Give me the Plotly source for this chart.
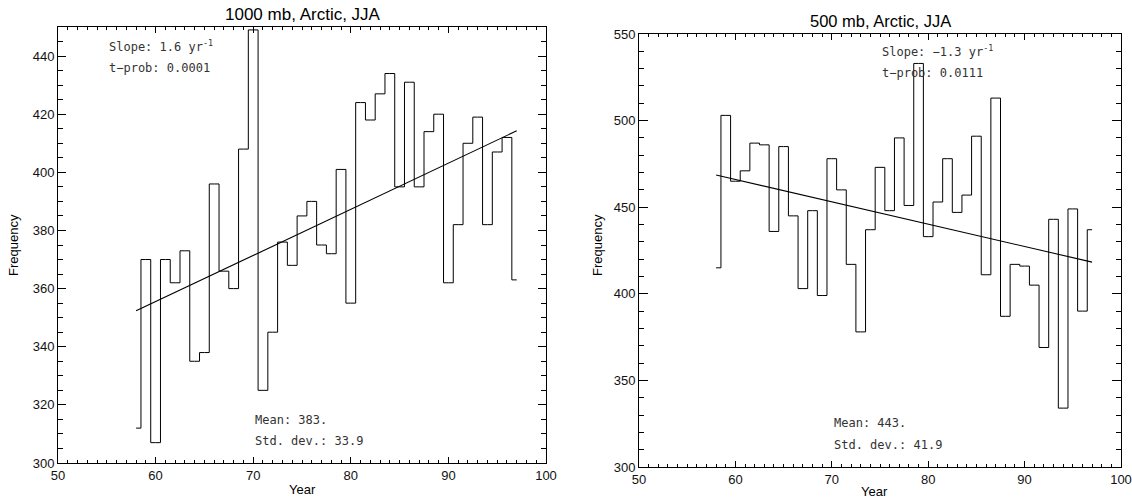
import numpy as np
import plotly.graph_objects as go

years = list(range(58, 98))
freq_1000 = [312, 370, 307, 370, 362, 373, 335, 338, 396, 366,
             360, 408, 449, 325, 345, 376, 368, 385, 390, 375,
             372, 401, 355, 424, 418, 427, 434, 395, 431, 395,
             414, 420, 362, 382, 410, 419, 382, 407, 412, 363]
freq_500 = [415, 503, 465, 471, 487, 486, 436, 485, 445, 403,
            448, 399, 478, 460, 417, 378, 437, 473, 448, 490,
            451, 533, 433, 453, 478, 447, 457, 491, 411, 513,
            387, 417, 416, 405, 369, 443, 334, 449, 390, 437]
titles = ["1000 mb, Arctic, JJA", "500 mb, Arctic, JJA"]
slope_txt = ["Slope: 1.6 yr<sup>-1</sup>", "Slope: \u22121.3 yr<sup>-1</sup>"]
tprob_txt = ["t\u2212prob: 0.0001", "t\u2212prob: 0.0111"]
mean_txt = ["Mean: 383.", "Mean: 443."]
std_txt = ["Std. dev.: 33.9", "Std. dev.: 41.9"]

W, H = 1132, 499
fig = go.Figure()

for i, (vals, ax) in enumerate([(freq_1000, ""), (freq_500, "2")]):
    fig.add_trace(go.Scatter(x=years, y=vals, mode="lines", line=dict(shape="hvh", color="black", width=1),
                             xaxis="x" + ax, yaxis="y" + ax, showlegend=False, hoverinfo="x+y"))
    c = np.polyfit(years, vals, 1)
    xs = [years[0], years[-1]]
    fig.add_trace(go.Scatter(x=xs, y=list(np.polyval(c, xs)), mode="lines",
                             line=dict(color="black", width=1.1),
                             xaxis="x" + ax, yaxis="y" + ax, showlegend=False))

font_tick = dict(family="Liberation Sans", size=13, color="#111")

def xaxis(domain, anchor):
    return dict(domain=domain, anchor=anchor, range=[50, 100], dtick=10, tick0=50,
                ticks="inside", ticklen=6, tickwidth=1, tickcolor="black",
                minor=dict(dtick=1, ticks="inside", ticklen=3, tickcolor="black"),
                showline=True, linecolor="black", linewidth=1, mirror="allticks",
                showgrid=False, zeroline=False, tickfont=font_tick, automargin=False,
                ticklabeloverflow="allow")

def yaxis(domain, anchor, rng, dt, mdt, tl, mtl):
    return dict(domain=domain, anchor=anchor, range=rng, dtick=dt,
                ticks="inside", ticklen=tl, tickwidth=1, tickcolor="black",
                minor=dict(dtick=mdt, ticks="inside", ticklen=mtl, tickcolor="black"),
                showline=True, linecolor="black", linewidth=1, mirror="allticks",
                showgrid=False, zeroline=False, tickfont=font_tick, automargin=False,
                ticklabeloverflow="allow")

fig.update_layout(
    width=W, height=H, margin=dict(l=0, r=0, t=0, b=0, autoexpand=False),
    paper_bgcolor="white", plot_bgcolor="white",
    xaxis=xaxis([58 / W, 546 / W], "y"),
    yaxis=yaxis([(H - 463) / H, (H - 27) / H], "x", [300, 450], 20, 5, 8, 5),
    xaxis2=xaxis([639 / W, 1121 / W], "y2"),
    yaxis2=yaxis([(H - 467) / H, (H - 34) / H], "x2", [300, 550], 50, 10, 9, 5),
)

ann = []
# titles
ann.append(dict(text=titles[0], x=303 / W, y=1 - 14 / H, xref="paper", yref="paper",
                xanchor="center", yanchor="middle",
                showarrow=False, font=dict(family="Liberation Sans", size=17, color="black")))
ann.append(dict(text=titles[1], x=880 / W, y=1 - 21 / H, xref="paper", yref="paper",
                xanchor="center", yanchor="middle",
                showarrow=False, font=dict(family="Liberation Sans", size=16.5, color="black")))
# axis titles
for xp, yp in [(302, 489), (874, 491)]:
    ann.append(dict(text="Year", x=xp / W, y=1 - yp / H, xref="paper", yref="paper",
                    xanchor="center", yanchor="middle",
                    showarrow=False, font=dict(family="Liberation Sans", size=13, color="black")))
for xp, yp in [(14, 245), (598, 245)]:
    ann.append(dict(text="Frequency", x=xp / W, y=1 - yp / H, xref="paper", yref="paper", textangle=-90,
                    xanchor="center", yanchor="middle",
                    showarrow=False, font=dict(family="Liberation Sans", size=13, color="black")))

tf = dict(family="DejaVu Sans Mono", size=12, color="#333")
pos = [
    dict(ax="", sx=55.0, sy=443.4, ty=435.9, mx=70.0, my=314.8, dy=307.6),
    dict(ax="2", sx=75.0, sy=540.3, ty=527.6, mx=70.0, my=325.5, dy=312.6),
]
for i, p in enumerate(pos):
    for txt, x, y in [(slope_txt[i], p["sx"], p["sy"]), (tprob_txt[i], p["sx"], p["ty"]),
                      (mean_txt[i], p["mx"], p["my"]), (std_txt[i], p["mx"], p["dy"])]:
        ann.append(dict(text=txt, x=x, y=y, xref="x" + p["ax"], yref="y" + p["ax"],
                        xanchor="left", yanchor="middle", showarrow=False, font=tf))

fig.update_layout(annotations=ann)
fig.write_html("out.html", config={"displayModeBar": False},
               post_script="document.documentElement.style.overflow='hidden';"
                           "document.body.style.margin='0px';document.body.style.overflow='hidden';")
